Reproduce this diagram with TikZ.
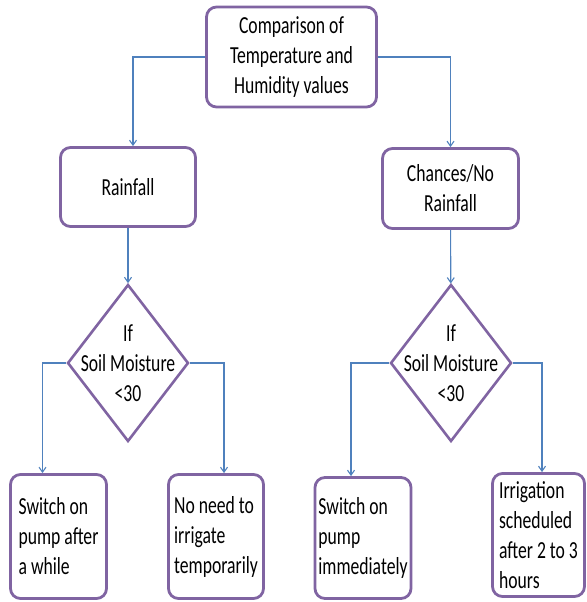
\documentclass[tikz,border=0pt]{standalone}
\usepackage{fontspec}
\setmainfont{Carlito}[FakeStretch=0.72]
\usepackage{tikz}
\usetikzlibrary{shapes.geometric,arrows.meta}
\definecolor{boxpurple}{RGB}{128,100,162}
\definecolor{lineblue}{RGB}{79,129,189}

\begin{document}
\begin{tikzpicture}[x=1pt,y=-1pt,font=\fontsize{24.5}{30}\selectfont,
  every text node part/.style={align=center},
  stepbox/.style={draw=boxpurple,line width=2.8pt,rounded corners=10pt,inner sep=0pt},
  decision/.style={draw=boxpurple,line width=2.6pt,diamond,inner sep=0pt,minimum width=121pt,minimum height=157pt},
  leafbox/.style={stepbox,every text node part/.style={align=left},minimum width=96pt,minimum height=124pt},
  flow/.style={draw=lineblue,line width=1.1pt,-{Straight Barb[length=5pt,width=7pt]}}]
\useasboundingbox (0,0) rectangle (586,602);
\node [stepbox,minimum width=170pt,minimum height=100pt] (top) at (291.5,57) {Comparison of\\Temperature and\\Humidity values};
\node [stepbox,minimum width=135pt,minimum height=79pt] (rain) at (128,187) {Rainfall};
\node [stepbox,minimum width=136pt,minimum height=80pt] (norain) at (450.5,188.5) {Chances/No\\Rainfall};
\node [decision] (soilA) at (128,363) {};
\node (soilAtext) at (soilA) {If\\Soil Moisture\\<30};
\node [decision] (soilB) at (451,363) {};
\node (soilBtext) at (soilB) {If\\Soil Moisture\\<30};
\node [leafbox] (pumpLater) at (58.5,536.5) {Switch on\\pump after\\a while};
\node [leafbox,minimum width=95pt] (noIrrig) at (216,536.5) {No need to\\irrigate\\temporarily};
\node [leafbox,minimum height=121pt] (pumpNow) at (363,538) {Switch on\\pump\\immediately};
\node [leafbox,minimum width=92pt,minimum height=123pt] (schedule) at (538.5,535) {Irrigation\\scheduled\\after 2 to 3\\hours};
\draw [flow] (top.west) -| ([xshift=5pt]rain.north);
\draw [flow] (top.east) -| (norain.north);
\draw [flow] (rain) -- (soilA);
\draw [flow] (norain) -- (soilB);
\draw [flow] (soilA.west) -| ([xshift=-16pt]pumpLater.north);
\draw [flow] (soilA.east) -| ([xshift=8pt]noIrrig.north);
\draw [flow] (soilB.west) -| ([xshift=-12pt]pumpNow.north);
\draw [flow] (soilB.east) -| ([xshift=3.5pt]schedule.north);
\end{tikzpicture}
\end{document}
